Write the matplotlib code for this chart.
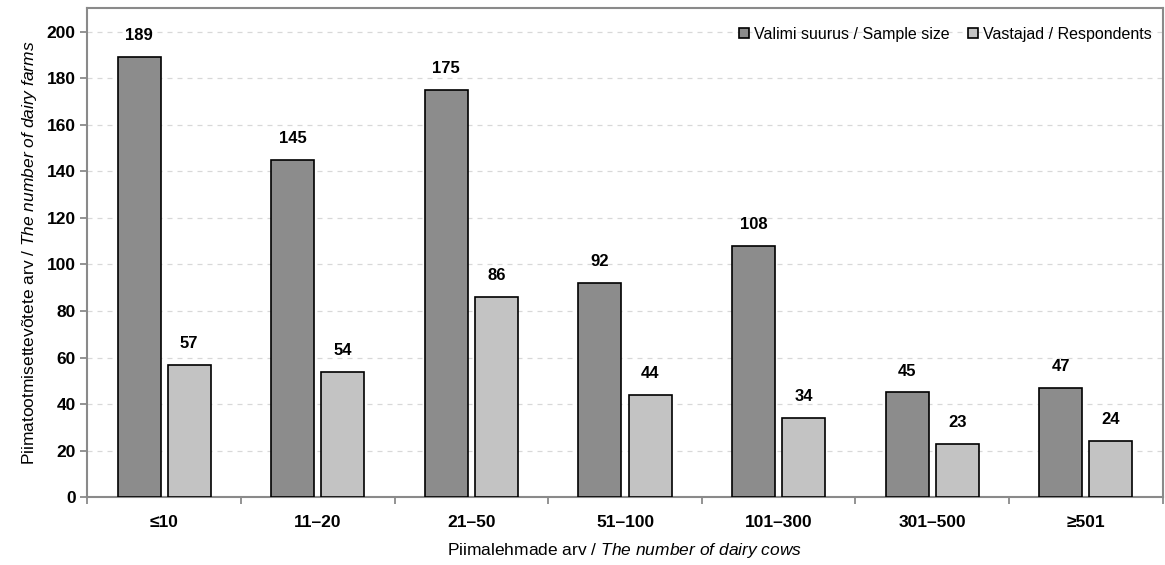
import numpy as np
import matplotlib.pyplot as plt

plt.rcParams['font.family'] = ['Liberation Sans', 'DejaVu Sans']
plt.rcParams['mathtext.fontset'] = 'custom'
plt.rcParams['mathtext.it'] = 'Liberation Sans:italic'
plt.rcParams['mathtext.rm'] = 'Liberation Sans'

# ========================== Data ==========================
categories = ["≤10", "11–20", "21–50", "51–100", "101–300", "301–500", "≥501"]
sample_size = [189, 145, 175, 92, 108, 45, 47]
respondents = [57, 54, 86, 44, 34, 23, 24]

# ========================== Plot ==========================
fig, ax = plt.subplots(figsize=(11.65, 5.65), dpi=100)
fig.subplots_adjust(left=0.075, right=0.998, top=0.985, bottom=0.12)

x = np.arange(len(categories))
w = 0.28
off = 0.163

b1 = ax.bar(x - off, sample_size, w, color="#8c8c8c", edgecolor="black", linewidth=1.2,
            label="Valimi suurus / Sample size", zorder=3)
b2 = ax.bar(x + off, respondents, w, color="#c3c3c3", edgecolor="black", linewidth=1.2,
            label="Vastajad / Respondents", zorder=3)

for bars, vals in [(b1, sample_size), (b2, respondents)]:
    for rect, v in zip(bars, vals):
        ax.text(rect.get_x() + rect.get_width() / 2, v + 6, str(v),
                ha="center", va="bottom", fontsize=12, fontweight="bold")

ax.set_xlim(-0.5, len(categories) - 0.5)
ax.set_ylim(0, 210)
ax.set_yticks(range(0, 201, 20))
ax.set_xticks(x)
ax.set_xticklabels(categories)
ax.set_xticks(np.arange(-0.5, len(categories)), minor=True)
ax.tick_params(axis="x", which="major", length=0, pad=13)
ax.tick_params(axis="x", which="minor", length=5, color="#808080", width=1.2)
ax.tick_params(axis="y", length=5, color="#808080", width=1.2)
for lab in ax.get_xticklabels() + ax.get_yticklabels():
    lab.set_fontweight("bold")
    lab.set_fontsize(12.5)

ax.grid(axis="y", linestyle=(0, (4, 4)), color="#d8d8d8", linewidth=0.9, zorder=0)
for s in ax.spines.values():
    s.set_color("#8a8a8a")
    s.set_linewidth(1.5)

ax.set_xlabel("Piimalehmade arv / $\\it{The\\ number\\ of\\ dairy\\ cows}$", fontsize=12.5, labelpad=8)
ax.set_ylabel("Piimatootmisettevõtete arv / $\\it{The\\ number\\ of\\ dairy\\ farms}$", fontsize=12.5, labelpad=5)

ax.legend(loc="upper right", ncol=2, frameon=False, fontsize=11.5, handlelength=0.6,
          handleheight=0.6, handletextpad=0.3, columnspacing=1.2, bbox_to_anchor=(1.0, 0.985),
          borderaxespad=0.3)

plt.savefig("out.png", dpi=100)
